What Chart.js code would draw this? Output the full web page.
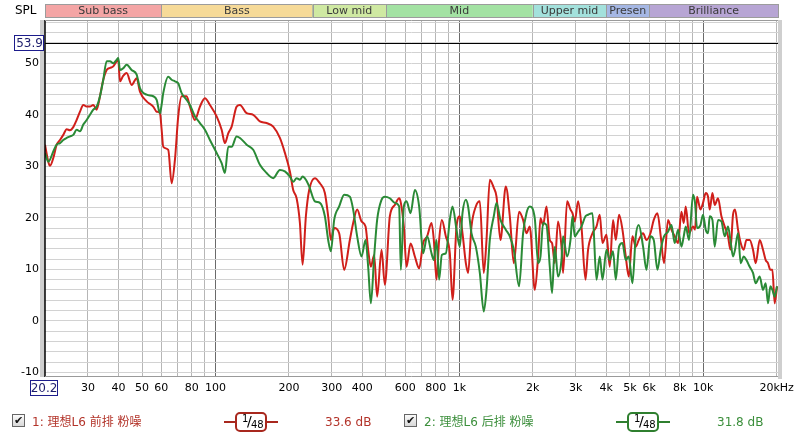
<!DOCTYPE html>
<html>
<head>
<meta charset="utf-8">
<script src="https://cdn.jsdelivr.net/npm/chart.js@4.4.1/dist/chart.umd.min.js"></script>
<style>
  body { margin: 0; background: #fff; font-family: "DejaVu Sans", "Noto Sans CJK SC", sans-serif; }
  #wrap { position: relative; width: 800px; height: 437px; overflow: hidden; }
  #chart { position: absolute; left: 0; top: 0; }
  .item { position: absolute; top: 413px; height: 18px; line-height: 18px; font-size: 12px; white-space: nowrap; }
  .txt { font-family: "DejaVu Sans", "Noto Sans CJK SC", sans-serif; }
  .chk { position: absolute; top: 414px; width: 11px; height: 11px; border: 1px solid #666;
         background: linear-gradient(#fafafa, #d8d8d8); font-size: 11px; line-height: 11px;
         text-align: center; color: #111; font-weight: bold; }
  .smooth { position: absolute; top: 412px; width: 54px; height: 20px; }
  .smooth .ln { position: absolute; left: 0; top: 9px; width: 54px; height: 2px; }
  .smooth .bx { position: absolute; left: 11px; top: 0; width: 28px; height: 16px; border: 2px solid;
                border-radius: 5px; background: #fff; font-size: 10px; color: #000; }
  .bx .n { position: absolute; left: 5px; top: 0px; line-height: 10px; }
  .bx .s { position: absolute; left: 10px; top: -1px; font-size: 14px; line-height: 16px; }
  .bx .d { position: absolute; left: 14px; top: 6px; line-height: 10px; }
</style>
</head>
<body>
<div id="wrap">
  <canvas id="chart" width="800" height="437"></canvas>

  <div class="chk" style="left:12px;">&#10004;</div>
  <div class="item txt" id="name1" style="left:32px; color:#b3342a;"></div>
  <div class="smooth" style="left:224px;">
    <div class="ln" style="background:#a8281e;"></div>
    <div class="bx" style="border-color:#a8281e;"><span class="n">1</span><span class="s">/</span><span class="d">48</span></div>
  </div>
  <div class="item" id="level1" style="left:325px; color:#b3342a;"></div>

  <div class="chk" style="left:404px;">&#10004;</div>
  <div class="item txt" id="name2" style="left:424px; color:#3c8f3c;"></div>
  <div class="smooth" style="left:616px;">
    <div class="ln" style="background:#2f7f2f;"></div>
    <div class="bx" style="border-color:#2f7f2f;"><span class="n">1</span><span class="s">/</span><span class="d">48</span></div>
  </div>
  <div class="item" id="level2" style="left:717px; color:#3c8f3c;"></div>
</div>

<script>
// ---- data ----
const seriesNames = ["1: 理想L6 前排 粉噪", "2: 理想L6 后排 粉噪"];
const seriesLevels = ["33.6 dB", "31.8 dB"];

const bandNames = ["Sub bass", "Bass", "Low mid", "Mid", "Upper mid", "Presen", "Brilliance"];
const bandEdges = [20, 60, 250, 500, 2000, 4000, 6000, 20250];
const bandColors = ["#f4a5a5", "#f6da98", "#cfe9a2", "#a3e2a3", "#a3e1dc", "#a5b7e4", "#b7a5d4"];

const gridFreqs = [30, 40, 50, 60, 70, 80, 90, 100, 200, 300, 400, 500, 600, 700, 800, 900,
  1000, 2000, 3000, 4000, 5000, 6000, 7000, 8000, 9000, 10000, 20000];
const decadeFreqs = [100, 1000, 10000];
const freqLabels = {30: "30", 40: "40", 50: "50", 60: "60", 80: "80", 100: "100", 200: "200",
  300: "300", 400: "400", 600: "600", 800: "800", 1000: "1k", 2000: "2k", 3000: "3k",
  4000: "4k", 5000: "5k", 6000: "6k", 8000: "8k", 10000: "10k", 20000: "20kHz"};
const dbLabels = [-10, 0, 10, 20, 30, 40, 50];

const markerLevel = 53.9;
const cursorFreqText = "20.2";

const freqs = [
  20.0, 20.63, 20.97, 21.63, 22.33, 23.04, 23.77, 24.54, 25.32, 26.12,
  26.97, 27.83, 28.71, 29.64, 30.58, 31.55, 32.58, 33.61, 34.67, 35.80,
  36.94, 38.10, 39.35, 39.94, 40.59, 41.75, 43.24, 45.33, 47.52, 49.02,
  52.22, 55.57, 57.39, 59.20, 60.16, 61.07, 64.03, 66.11, 68.21, 70.36,
  72.66, 76.17, 78.58, 82.37, 86.35, 90.52, 94.90, 101.1, 106.0, 109.3,
  112.8, 116.5, 122.1, 126.0, 134.2, 142.8, 152.1, 162.0, 172.5, 183.7,
  192.6, 201.9, 208.3, 215.1, 221.9, 227.6, 234.8, 242.2, 255.6, 268.0,
  280.9, 289.8, 297.3, 306.7, 321.5, 337.0, 355.6, 366.9, 381.0, 397.1,
  412.4, 422.7, 433.6, 447.3, 460.1, 479.6, 494.8, 518.7, 543.8, 566.3,
  575.5, 592.0, 607.3, 630.7, 656.8, 684.0, 710.3, 737.6, 768.9, 785.7,
  806.0, 826.0, 847.4, 880.0, 913.8, 937.4, 973.4, 1004, 1030, 1063,
  1086, 1121, 1168, 1213, 1259, 1292, 1333, 1384, 1420, 1474,
  1550, 1610, 1672, 1757, 1825, 1884, 1944, 2038, 2103, 2151,
  2204, 2276, 2348, 2399, 2461, 2539, 2622, 2662, 2765, 2855,
  2909, 2973, 3067, 3167, 3289, 3370, 3513, 3649, 3764, 3861,
  4010, 4136, 4267, 4378, 4516, 4663, 4811, 4949, 5124, 5287,
  5438, 5665, 5848, 6073, 6266, 6488, 6693, 6905, 7171, 7405,
  7639, 7881, 8138, 8316, 8475, 8743, 9079, 9252, 9428, 9736,
  9977, 10235, 10460, 10629, 10903, 11142, 11495, 11870, 12245, 12632,
  12922, 13243, 13495, 13883, 14240, 14650, 15026, 15503, 15994, 16407,
  17038, 17577, 18030, 18420, 18848, 19207, 19629, 20059
];

const frontRow = [
  34.2, 30.9, 30.1, 31.6, 34.2, 35.1, 36.1, 37.2, 37.0, 37.6,
  39.0, 40.6, 41.9, 41.6, 41.6, 41.9, 41.0, 43.6, 46.8, 48.7,
  49.1, 49.4, 50.4, 50.6, 46.5, 47.5, 48.1, 45.8, 47.1, 44.5,
  42.6, 41.6, 40.6, 40.3, 37.1, 33.8, 33.2, 26.7, 31.3, 39.7,
  43.6, 43.6, 41.6, 39.0, 41.6, 43.2, 41.9, 39.7, 37.1, 34.5,
  36.4, 37.7, 41.6, 41.9, 40.3, 40.0, 38.7, 38.4, 37.7, 35.5,
  32.6, 29.0, 25.4, 23.8, 19.0, 10.9, 20.3, 25.4, 27.7, 26.7,
  24.8, 20.3, 15.7, 18.0, 17.0, 9.9, 15.7, 19.0, 21.6, 19.3,
  18.3, 13.8, 10.5, 12.8, 4.7, 13.8, 7.0, 20.3, 22.5, 23.8,
  22.9, 18.3, 10.5, 15.0, 12.5, 10.2, 15.1, 16.4, 19.0, 15.7,
  8.0, 15.7, 19.6, 16.4, 13.1, 4.1, 18.3, 20.3, 17.0, 11.2,
  9.3, 18.3, 22.2, 23.2, 9.3, 15.7, 27.4, 25.8, 24.1, 15.7,
  26.1, 20.3, 11.2, 21.2, 19.6, 17.0, 18.3, 6.0, 12.5, 19.9,
  18.6, 22.2, 15.7, 15.1, 11.2, 19.3, 14.4, 9.3, 23.2, 21.6,
  20.9, 19.3, 23.2, 18.3, 8.0, 13.8, 17.0, 18.3, 20.6, 15.1,
  16.7, 10.5, 19.6, 15.7, 20.6, 17.7, 12.5, 8.6, 16.4, 14.4,
  15.7, 17.0, 15.7, 17.0, 19.6, 20.9, 16.4, 11.2, 19.6, 17.7,
  16.4, 15.1, 21.2, 19.0, 22.2, 17.0, 18.3, 17.7, 24.1, 21.6,
  22.9, 24.8, 24.1, 21.6, 24.8, 22.5, 23.8, 20.3, 18.3, 16.4,
  13.8, 20.6, 21.6, 17.7, 15.1, 13.8, 15.7, 15.7, 13.8, 11.2,
  15.7, 13.8, 11.8, 11.2, 9.9, 9.9, 3.4, 6.7
];

const rearRow = [
  32.6, 30.9, 31.3, 32.9, 34.2, 34.5, 35.1, 35.5, 35.8, 36.1,
  37.1, 36.8, 38.1, 39.0, 40.0, 41.0, 41.6, 43.6, 46.8, 50.4,
  50.4, 50.0, 50.7, 51.0, 48.7, 49.0, 49.7, 48.7, 47.8, 45.2,
  43.9, 43.6, 42.9, 40.3, 42.0, 44.2, 47.4, 46.8, 46.5, 46.1,
  44.2, 42.9, 41.9, 39.7, 38.4, 37.1, 35.1, 32.6, 30.6, 28.7,
  33.8, 33.8, 35.8, 35.5, 34.2, 33.2, 30.3, 28.7, 27.7, 29.3,
  29.0, 28.0, 27.0, 27.7, 27.4, 28.0, 27.4, 26.1, 23.2, 22.9,
  20.3, 15.7, 13.5, 19.6, 22.2, 24.5, 24.1, 21.6, 16.4, 12.5,
  15.7, 10.5, 3.4, 12.5, 19.6, 23.5, 24.1, 23.8, 22.9, 22.2,
  9.9, 22.2, 23.2, 20.9, 25.4, 22.2, 13.1, 16.4, 13.1, 11.8,
  15.7, 8.0, 12.8, 13.1, 19.6, 22.2, 17.7, 14.4, 20.9, 23.5,
  22.2, 17.0, 14.4, 9.3, 1.8, 6.0, 15.7, 20.3, 22.9, 19.6,
  17.7, 16.4, 13.8, 6.7, 17.0, 20.9, 22.2, 19.9, 11.2, 12.5,
  19.0, 18.6, 10.5, 5.4, 14.4, 8.6, 11.8, 16.4, 12.5, 15.7,
  20.3, 16.4, 17.3, 18.3, 20.3, 20.6, 20.9, 8.0, 12.5, 8.0,
  13.8, 11.8, 13.5, 8.0, 14.4, 15.1, 11.8, 12.5, 7.3, 16.4,
  18.6, 14.4, 9.9, 16.4, 15.7, 9.9, 13.8, 16.4, 17.3, 18.6,
  15.1, 17.7, 14.4, 16.4, 18.3, 15.7, 24.5, 22.9, 18.0, 18.6,
  20.6, 17.7, 17.0, 20.3, 19.6, 14.4, 19.6, 19.3, 16.4, 18.3,
  15.7, 12.5, 13.8, 17.0, 11.2, 12.5, 11.8, 10.5, 9.3, 7.3,
  8.6, 6.0, 7.3, 3.4, 6.7, 6.0, 4.7, 6.7
];

// ---- legend text ----
document.getElementById("name1").textContent = seriesNames[0];
document.getElementById("name2").textContent = seriesNames[1];
document.getElementById("level1").textContent = seriesLevels[0];
document.getElementById("level2").textContent = seriesLevels[1];

Chart.defaults.font.family = '"DejaVu Sans", sans-serif';
Chart.defaults.font.size = 11;
Chart.defaults.color = "#000";

function toPoints(ys) {
  return freqs.map((f, i) => ({ x: f, y: ys[i] }));
}

// frequency bands strip, plot frame, marker line and value boxes
const decorPlugin = {
  id: "decor",
  beforeDatasetsDraw(chart) {
    const { ctx, chartArea: a, scales: { y } } = chart;
    const ym = Math.round(y.getPixelForValue(markerLevel)) + 0.5;
    ctx.save();
    ctx.strokeStyle = "#000";
    ctx.lineWidth = 1.2;
    ctx.beginPath();
    ctx.moveTo(a.left, ym);
    ctx.lineTo(a.right, ym);
    ctx.stroke();
    ctx.restore();
  },
  afterDraw(chart) {
    const { ctx, chartArea: a, scales: { x, y } } = chart;
    ctx.save();

    // shadows at the sides of the plot
    ctx.fillStyle = "#cfcfcf";
    ctx.fillRect(a.left - 5, a.top, 5, a.bottom - a.top);
    ctx.fillRect(a.right, a.top, 4, a.bottom - a.top + 2);
    ctx.strokeStyle = "#000";
    ctx.lineWidth = 1.5;
    ctx.beginPath();
    ctx.moveTo(a.left, a.top);
    ctx.lineTo(a.left, a.bottom);
    ctx.stroke();
    ctx.strokeStyle = "#9a9a9a";
    ctx.lineWidth = 1;
    ctx.beginPath();
    ctx.moveTo(a.left, a.top + 0.5);
    ctx.lineTo(a.right, a.top + 0.5);
    ctx.moveTo(a.left, a.bottom - 0.5);
    ctx.lineTo(a.right, a.bottom - 0.5);
    ctx.stroke();

    // band strip
    ctx.font = '11px "DejaVu Sans", sans-serif';
    ctx.textAlign = "center";
    ctx.textBaseline = "middle";
    bandNames.forEach((name, i) => {
      const x0 = Math.max(a.left, x.getPixelForValue(bandEdges[i]));
      const x1 = Math.min(a.right, x.getPixelForValue(bandEdges[i + 1]));
      ctx.fillStyle = bandColors[i];
      ctx.fillRect(x0, 4, x1 - x0, 14);
      ctx.strokeStyle = "#9c9c9c";
      ctx.strokeRect(Math.round(x0) + 0.5, 4.5, Math.round(x1 - x0), 13);
      ctx.fillStyle = "#3a3a3a";
      ctx.fillText(name, (x0 + x1) / 2, 11.5);
    });

    // axis title
    ctx.fillStyle = "#000";
    ctx.textAlign = "left";
    ctx.font = '12px "DejaVu Sans", sans-serif';
    ctx.fillText("SPL", 15, 11);

    // value boxes
    ctx.font = '12px "DejaVu Sans", sans-serif';
    const ym = Math.round(y.getPixelForValue(markerLevel));
    ctx.fillStyle = "#fff";
    ctx.fillRect(14, ym - 8, 30, 16);
    ctx.strokeStyle = "#1c1c8c";
    ctx.strokeRect(14.5, ym - 7.5, 29, 15);
    ctx.fillStyle = "#1c1c6c";
    ctx.textAlign = "center";
    ctx.fillText(markerLevel.toFixed(1), 29.5, ym + 0.5);

    const xb = a.left;
    ctx.fillStyle = "#fff";
    ctx.fillRect(xb - 15, a.bottom + 3, 28, 16);
    ctx.strokeRect(xb - 14.5, a.bottom + 3.5, 27, 15);
    ctx.fillStyle = "#1c1c6c";
    ctx.fillText(cursorFreqText, xb - 1, a.bottom + 11.5);
    ctx.restore();
  }
};

new Chart(document.getElementById("chart"), {
  type: "line",
  data: {
    datasets: [
      { label: seriesNames[1], data: toPoints(rearRow), borderColor: "#2a8a36",
        borderWidth: 2, pointRadius: 0, cubicInterpolationMode: "monotone" },
      { label: seriesNames[0], data: toPoints(frontRow), borderColor: "#d01f1a",
        borderWidth: 2, pointRadius: 0, cubicInterpolationMode: "monotone" }
    ]
  },
  options: {
    responsive: false,
    animation: false,
    layout: { padding: { left: 0, right: 22, top: 20, bottom: 0 } },
    plugins: { legend: { display: false }, tooltip: { enabled: false } },
    scales: {
      x: {
        type: "logarithmic",
        min: 20,
        max: 20250,
        afterBuildTicks: s => { s.ticks = gridFreqs.map(v => ({ value: v })); },
        afterFit: s => { s.height = 60; },
        ticks: {
          autoSkip: false, maxRotation: 0, minRotation: 0, padding: 5,
          callback: v => freqLabels[v] || ""
        },
        grid: {
          drawTicks: false,
          color: c => (c.tick && decadeFreqs.includes(c.tick.value)) ? "#6a6a6a" : "#b6b6b6"
        },
        border: { display: false }
      },
      y: {
        min: -10.9,
        max: 58.4,
        afterBuildTicks: s => {
          const t = [];
          for (let v = -10; v <= 58; v += 2) t.push({ value: v });
          s.ticks = t;
        },
        afterFit: s => { s.width = 45; },
        ticks: {
          autoSkip: false,
          padding: 6,
          callback: v => dbLabels.includes(v) ? String(v) : ""
        },
        grid: { drawTicks: false, color: "#d2d2d2" },
        border: { display: false }
      }
    }
  },
  plugins: [decorPlugin]
});
</script>
</body>
</html>
